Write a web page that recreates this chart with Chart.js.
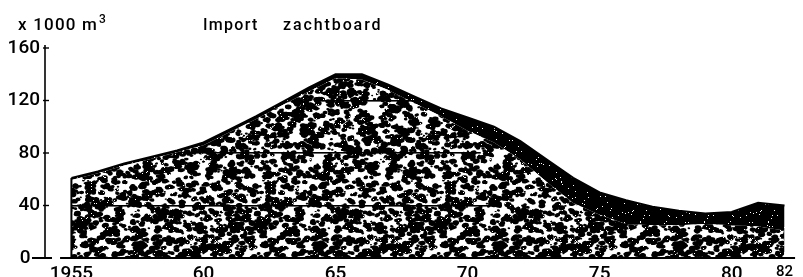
<!DOCTYPE html>
<html><head><meta charset="utf-8">
<script src="https://cdn.jsdelivr.net/npm/chart.js@4/dist/chart.umd.min.js"></script>
<style>html,body{margin:0;padding:0;background:#fff;}#wrap{width:803px;height:277px;}</style>
</head><body><div id="wrap"><canvas id="c" width="803" height="277"></canvas></div>
<script>
// ---- data (x 1000 m3) ----
const years = [1955,1956,1957,1958,1959,1960,1961,1962,1963,1964,1965,1966,1967,1968,1969,1970,1971,1972,1973,1974,1975,1976,1977,1978,1979,1980,1981,1982];
const speckledPart = [59.5,64.5,70.5,75.5,80.5,86,96,106,116.5,127,137,136,128,118,108,97,88,75,58,42,33,26,25,25,26,25,24,21];
const totalImport = [61,66,72,77,82,88,98,108,119,130,140,140,132,123,114,107,100,89,75,61,50,44,39,36,34,35,42,40];
const yTicks = [0,40,80,120,160];
const xTicks = [1955,1960,1965,1970,1975,1980,1982];
const xTickLabels = ['1955','60','65','70','75','80','82'];
const titleText = ['Import','zachtboard'];
const unitText = 'x 1000 m';
const unitSup = '3';
// internal guide lines (value, from year, to year)
const innerLines = [[40,1955,1971.2],[80,1959.2,1970.5],[120,1964.2,1968.2]];

const FONT = 'Roboto, "Liberation Sans", Arial, sans-serif';

function prng(seed){return function(){seed|=0;seed=seed+0x6D2B79F5|0;let t=Math.imul(seed^seed>>>15,1|seed);t=t+Math.imul(t^t>>>7,61|t)^t;return((t^t>>>14)>>>0)/4294967296;};}
function speckle(){
  const W=180,H=180,c=document.createElement('canvas');c.width=W;c.height=H;
  const g=c.getContext('2d');g.fillStyle='#fff';g.fillRect(0,0,W,H);g.fillStyle='#000';
  const r=prng(11);
  for(let i=0;i<1350;i++){
    const cx=r()*W,cy=r()*H,n=1+Math.floor(r()*4);
    for(let k=0;k<n;k++){
      const x=cx+(r()-0.5)*6,y=cy+(r()-0.5)*4,rad=0.7+r()*1.9;
      for(const dx of [-W,0,W])for(const dy of [-H,0,H]){g.beginPath();g.ellipse(x+dx,y+dy,rad*1.4,rad,r()*0.6-0.3,0,Math.PI*2);g.fill();}
    }
  }
  g.fillStyle='#fff';
  for(let i=0;i<500;i++){g.fillRect(Math.floor(r()*W),Math.floor(r()*H),1,1);}
  return g.createPattern(c,'repeat');
}
function stipple(){
  const W=64,H=64,c=document.createElement('canvas');c.width=W;c.height=H;
  const g=c.getContext('2d');g.fillStyle='#000';g.fillRect(0,0,W,H);g.fillStyle='#fff';
  const r=prng(3);
  for(let i=0;i<90;i++){g.fillRect(Math.floor(r()*W),Math.floor(r()*H),1,1);}
  return g.createPattern(c,'repeat');
}

const decor = {
  id:'decor',
  afterDatasetsDraw(chart){
    const {ctx,scales:{x,y}}=chart;
    ctx.save();
    for(const [v,a,b] of innerLines){
      const py=Math.round(y.getPixelForValue(v));
      ctx.fillStyle='#000';
      ctx.fillRect(x.getPixelForValue(a),py-1,x.getPixelForValue(b)-x.getPixelForValue(a),1.6);
    }
    ctx.strokeStyle='#000';ctx.lineWidth=2;
    const x0=x.getPixelForValue(years[0]);
    ctx.beginPath();ctx.moveTo(x0,y.getPixelForValue(0));ctx.lineTo(x0,y.getPixelForValue(totalImport[0]));ctx.stroke();
    ctx.restore();
  },
  afterDraw(chart){
    const {ctx,chartArea,scales:{x,y}}=chart;
    ctx.save();
    ctx.strokeStyle='#000';
    const ax=chartArea.left;
    ctx.lineWidth=1.6;
    ctx.beginPath();ctx.moveTo(ax,y.getPixelForValue(160)-3);ctx.lineTo(ax,y.getPixelForValue(0));ctx.stroke();
    for(const t of yTicks){
      const py=y.getPixelForValue(t);
      ctx.beginPath();
      if(t===0){ctx.moveTo(ax-13,py);ctx.lineTo(ax+7,py);}else{ctx.moveTo(ax-2,py);ctx.lineTo(ax+4,py);}
      ctx.lineWidth=t===0?2:1.4;ctx.stroke();
    }
    ctx.lineWidth=2.2;
    const by=y.getPixelForValue(0);
    ctx.beginPath();ctx.moveTo(x.getPixelForValue(1954.57),by);ctx.lineTo(x.getPixelForValue(1982.4),by);ctx.stroke();
    ctx.fillStyle='#000';ctx.textBaseline='alphabetic';ctx.textAlign='left';
    ctx.font='500 17px '+FONT;
    try{ctx.letterSpacing='1.2px';}catch(e){}
    ctx.fillText(unitText,18,30);
    const w=ctx.measureText(unitText).width;
    ctx.font='500 12px '+FONT;
    ctx.fillText(unitSup,18+w+1,23);
    ctx.font='500 16px '+FONT;
    try{ctx.letterSpacing='1.3px';}catch(e){}
    ctx.fillText(titleText[0],203,30);
    try{ctx.letterSpacing='1.9px';}catch(e){}
    ctx.fillText(titleText[1],283,30);
    ctx.restore();
  }
};

const speckPat=speckle(), bandPat=stipple();
new Chart(document.getElementById('c'),{
  type:'line',
  data:{datasets:[
    {label:'speckled',data:years.map((v,i)=>({x:v,y:speckledPart[i]})),fill:'origin',backgroundColor:speckPat,borderWidth:0,borderColor:'rgba(0,0,0,0)',pointRadius:0,tension:0},
    {label:'total',data:years.map((v,i)=>({x:v,y:totalImport[i]})),fill:'-1',backgroundColor:bandPat,borderWidth:2,borderColor:'#000',pointRadius:0,tension:0}
  ]},
  options:{
    responsive:false,animation:false,devicePixelRatio:1,
    layout:{padding:{top:48,left:0,right:0,bottom:0}},
    plugins:{legend:{display:false},tooltip:{enabled:false},title:{display:false}},
    scales:{
      x:{type:'linear',min:1954,max:1982.7,
        grid:{display:false,drawTicks:false},border:{display:false},
        afterBuildTicks:(s)=>{s.ticks=xTicks.map(v=>({value:v}));},
        afterFit:(s)=>{s.height=19;},
        ticks:{autoSkip:false,maxRotation:0,padding:5,color:'#000',
          font:(c)=>({family:FONT,weight:'500',size:(c.tick&&c.tick.value===1982)?15:19}),
          callback:(v)=>{const i=xTicks.indexOf(v);return i<0?'':xTickLabels[i];}}
      },
      y:{min:0,max:160,
        grid:{display:false,drawTicks:false},border:{display:false},
        afterBuildTicks:(s)=>{s.ticks=yTicks.map(v=>({value:v}));},
        afterFit:(s)=>{s.width=45;},
        ticks:{padding:5,color:'#000',font:{family:FONT,weight:'500',size:19},
          callback:(v)=>v===0?'0  ':String(v)}
      }
    }
  },
  plugins:[decor]
});
</script></body></html>
